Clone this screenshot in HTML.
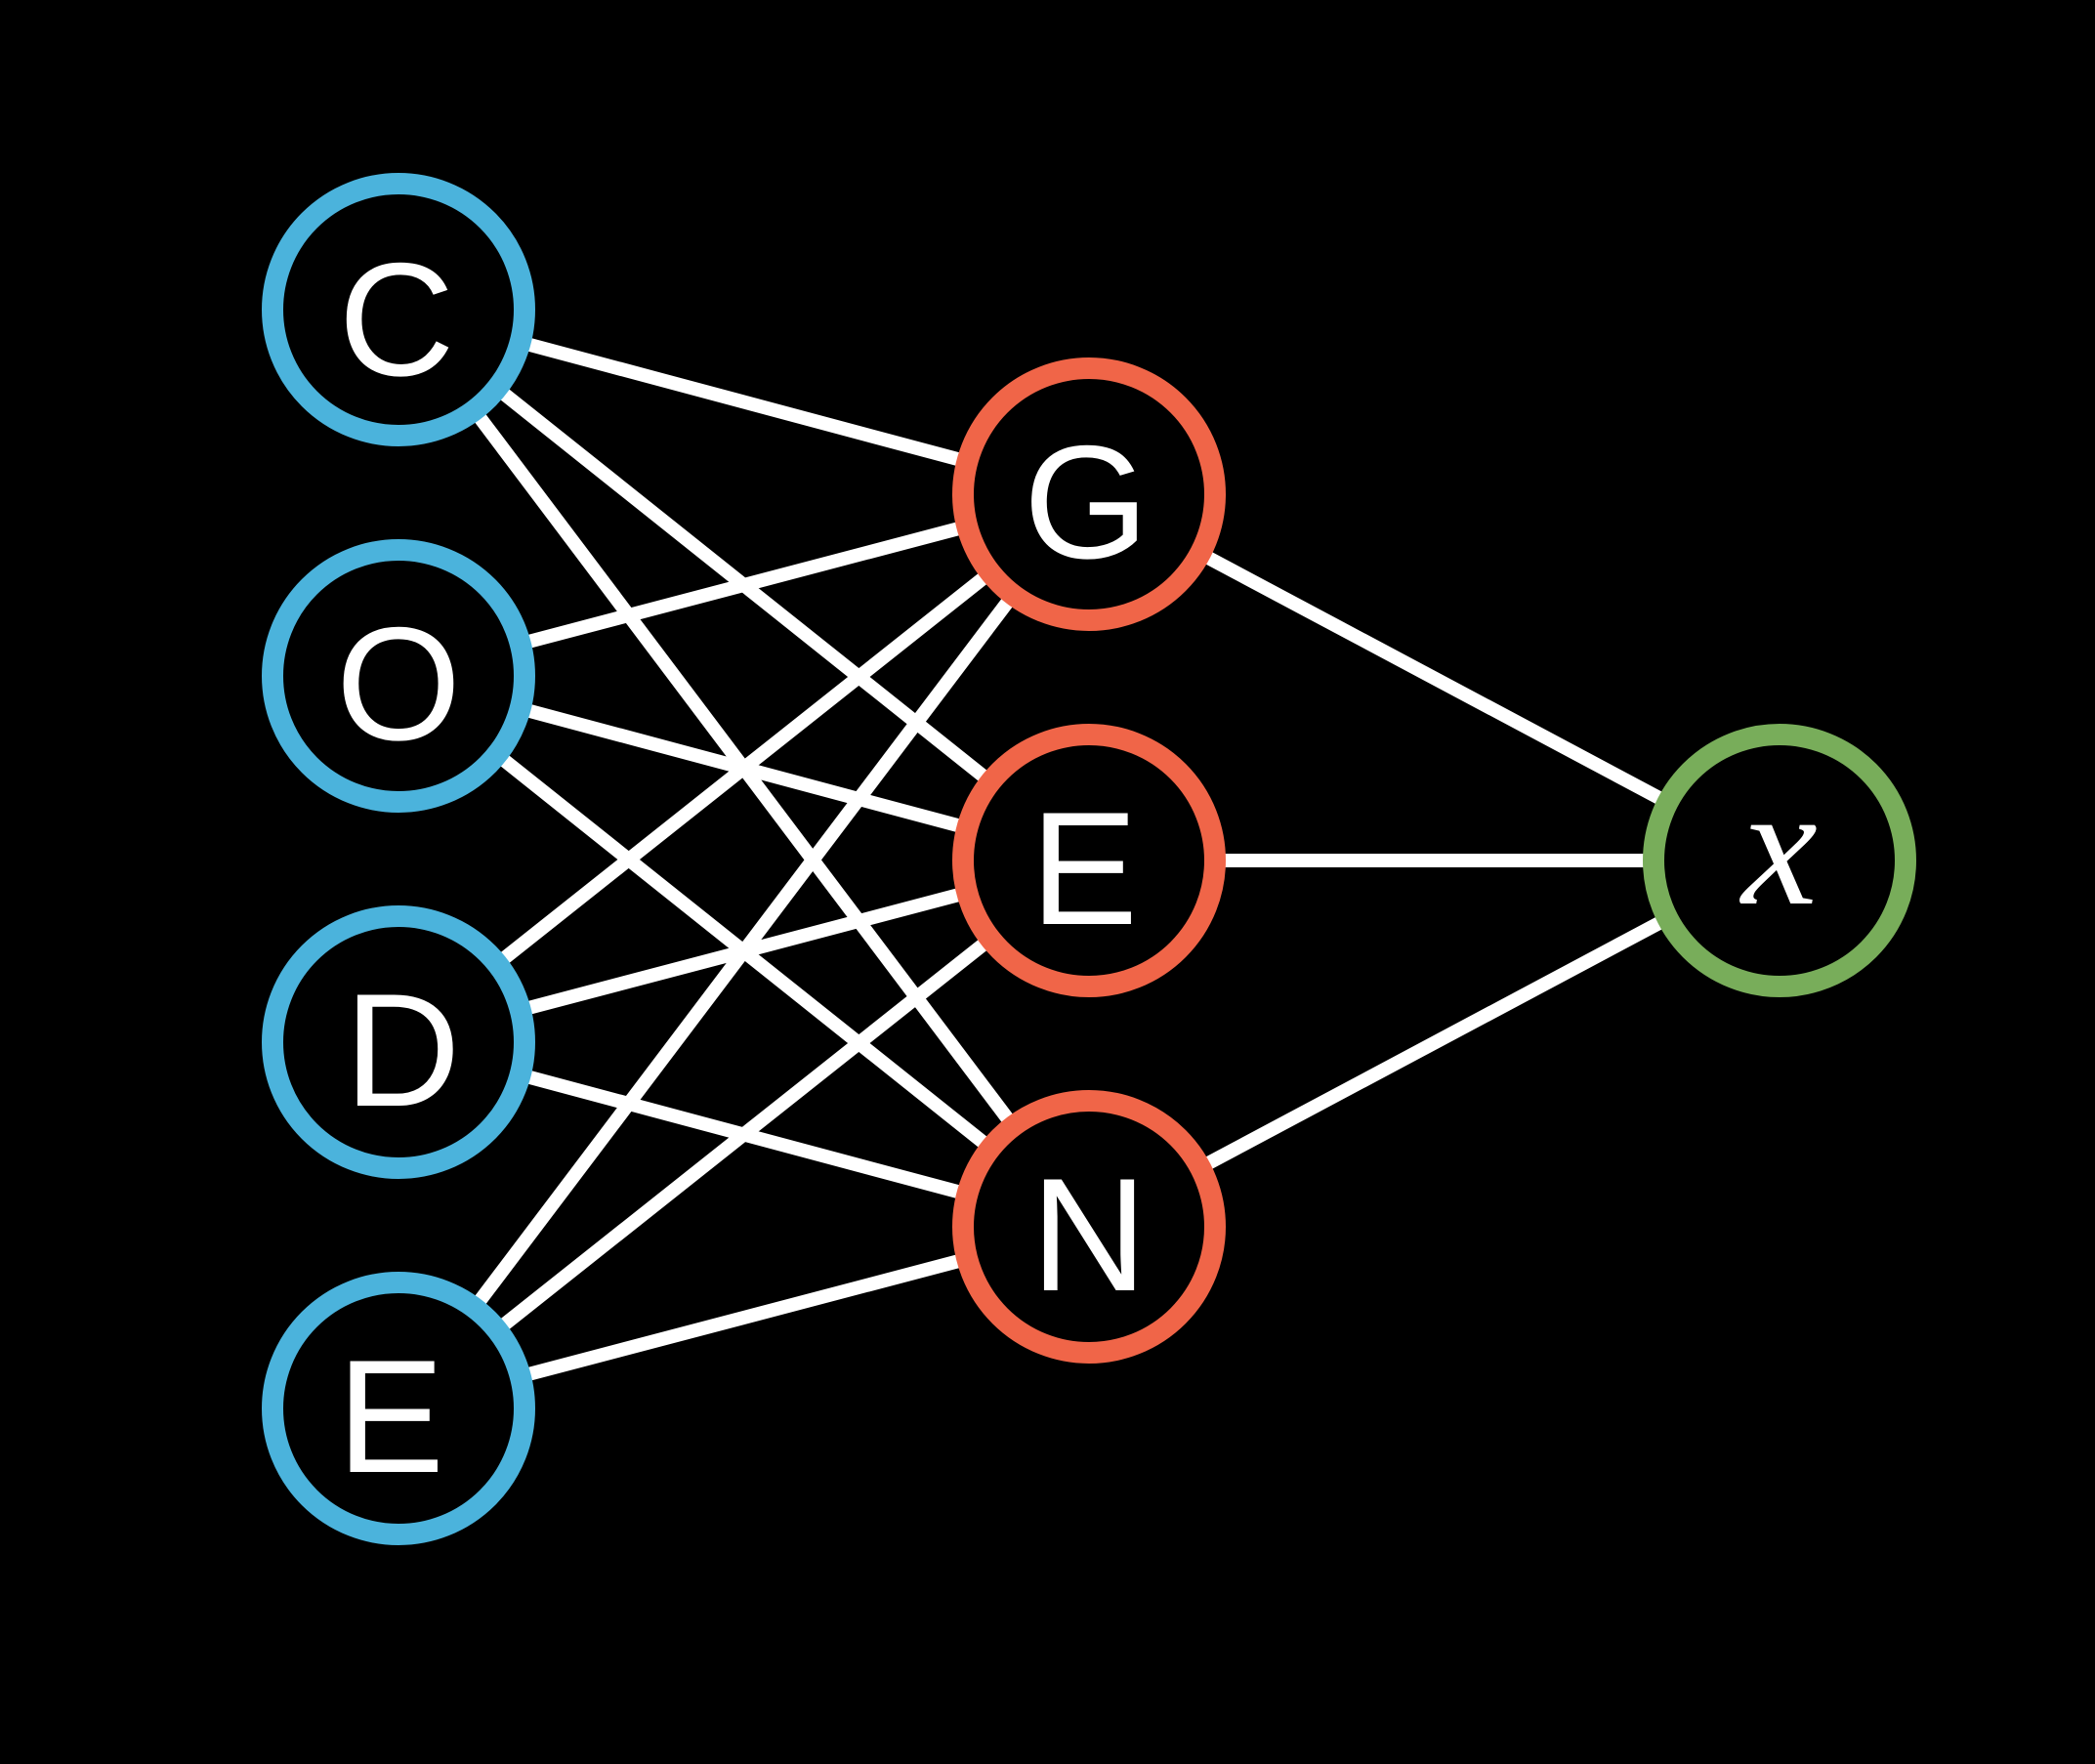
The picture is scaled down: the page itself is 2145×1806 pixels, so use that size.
<!DOCTYPE html>
<html><head><meta charset="utf-8"><style>
html,body{margin:0;padding:0;background:#000;}
svg{display:block}
text{font-family:"Liberation Sans",sans-serif;fill:#fff;text-anchor:middle;dominant-baseline:central;}
</style></head><body>
<svg width="2145" height="1806" viewBox="0 0 2145 1806" xmlns="http://www.w3.org/2000/svg">
<rect width="2145" height="1806" fill="#000"/>
<g stroke="#fff" stroke-width="14">
<line x1="408" y1="317" x2="1115" y2="506"/><line x1="408" y1="317" x2="1115" y2="881"/><line x1="408" y1="317" x2="1115" y2="1256"/>
<line x1="408" y1="692" x2="1115" y2="506"/><line x1="408" y1="692" x2="1115" y2="881"/><line x1="408" y1="692" x2="1115" y2="1256"/>
<line x1="408" y1="1067" x2="1115" y2="506"/><line x1="408" y1="1067" x2="1115" y2="881"/><line x1="408" y1="1067" x2="1115" y2="1256"/>
<line x1="408" y1="1442" x2="1115" y2="506"/><line x1="408" y1="1442" x2="1115" y2="881"/><line x1="408" y1="1442" x2="1115" y2="1256"/>
<line x1="1115" y1="506" x2="1819" y2="881"/><line x1="1115" y1="881" x2="1819" y2="881"/><line x1="1115" y1="1256" x2="1819" y2="881"/>
</g>
<g fill="#000" stroke-width="22">
<circle cx="408" cy="317" r="129" stroke="#4bb3dc"/>
<circle cx="408" cy="692" r="129" stroke="#4bb3dc"/>
<circle cx="408" cy="1067" r="129" stroke="#4bb3dc"/>
<circle cx="408" cy="1442" r="129" stroke="#4bb3dc"/>
<circle cx="1115" cy="506" r="129" stroke="#f06548"/>
<circle cx="1115" cy="881" r="129" stroke="#f06548"/>
<circle cx="1115" cy="1256" r="129" stroke="#f06548"/>
<circle cx="1822" cy="881" r="129" stroke="#78ad5a"/>
</g>
<g font-size="165">
<text x="406" y="327">C</text>
<text x="408" y="700">O</text>
<text x="412" y="1075">D</text>
<text x="400" y="1450">E</text>
<text x="1112" y="514">G</text>
<text x="1110" y="889">E</text>
<text x="1115" y="1264">N</text>
<text x="1822" y="866" style="font-family:'Liberation Serif',serif;font-style:italic" font-size="175">x</text>
</g>
</svg>
</body></html>
